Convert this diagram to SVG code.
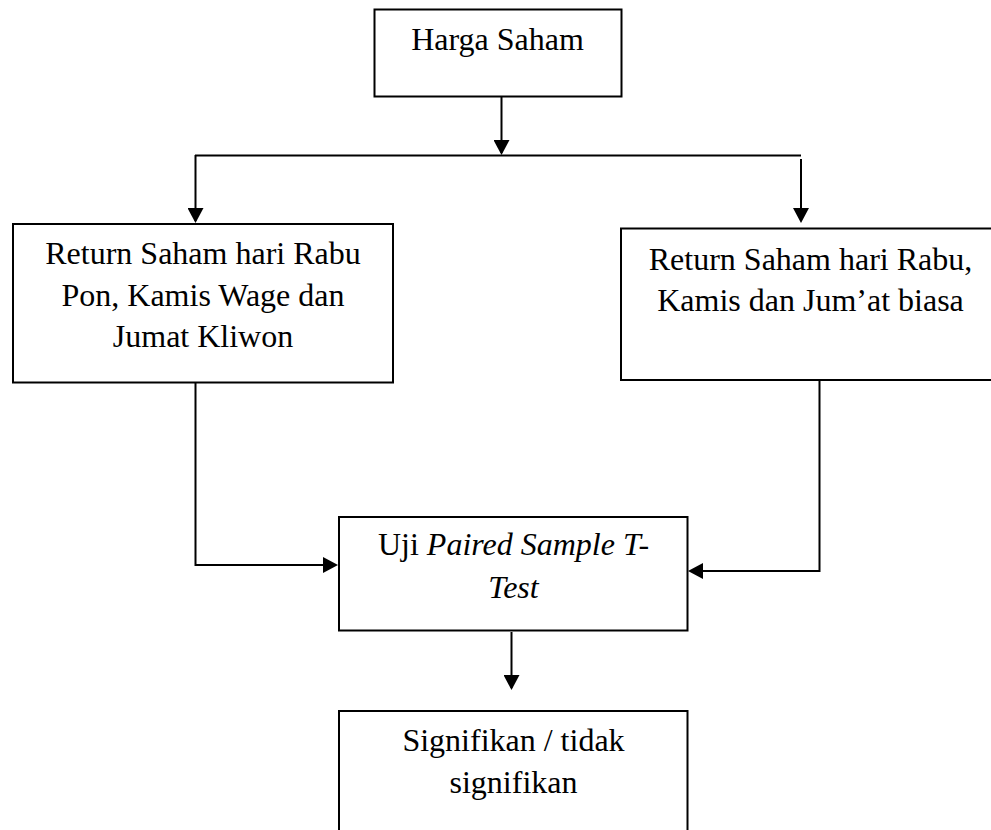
<svg xmlns="http://www.w3.org/2000/svg" width="991" height="830" viewBox="0 0 991 830">
<style>
.box{fill:#fff;stroke:#000;stroke-width:2}
.con{fill:none;stroke:#000;stroke-width:2}
text{font-family:"Liberation Serif","Times New Roman",serif;font-size:32px;fill:#000;text-anchor:middle}
.it{font-style:italic}
</style>
<defs>
<marker id="ah" markerUnits="userSpaceOnUse" markerWidth="16" markerHeight="16" refX="13" refY="8" orient="auto">
<path d="M0,0 L15,8 L0,16 z" fill="#000"/>
</marker>
</defs>
<rect width="991" height="830" fill="#fff"/>
<g id="connectors">
<path class="con" d="M501.5,96 V153" marker-end="url(#ah)"/>
<path class="con" d="M195,155.5 H801"/>
<path class="con" d="M195.5,155 V221" marker-end="url(#ah)"/>
<path class="con" d="M801,159 V221" marker-end="url(#ah)"/>
<path class="con" d="M195.5,383 V565 H336" marker-end="url(#ah)"/>
<path class="con" d="M819.5,380 V571 H690" marker-end="url(#ah)"/>
<path class="con" d="M511.5,632 V688" marker-end="url(#ah)"/>
</g>
<g id="harga-saham">
<rect class="box" x="374.5" y="9.5" width="247" height="87"/>
<text x="497.5" y="50">Harga Saham</text>
</g>
<g id="return-khusus">
<rect class="box" x="13" y="224" width="380" height="158.5"/>
<text x="203" y="264">Return Saham hari Rabu</text>
<text x="203" y="305.5">Pon, Kamis Wage dan</text>
<text x="203" y="347">Jumat Kliwon</text>
</g>
<g id="return-biasa">
<rect class="box" x="621" y="228.5" width="380" height="151.5"/>
<text x="810.5" y="270">Return Saham hari Rabu,</text>
<text x="810.5" y="311">Kamis dan Jum’at biasa</text>
</g>
<g id="uji">
<rect class="box" x="339" y="517" width="348.5" height="113.5"/>
<text x="513.5" y="555">Uji <tspan class="it">Paired Sample T-</tspan></text>
<text x="513.5" y="598" class="it">Test</text>
</g>
<g id="hasil">
<rect class="box" x="339" y="711" width="348.5" height="140"/>
<text x="513.5" y="751">Signifikan / tidak</text>
<text x="513.5" y="793">signifikan</text>
</g>
</svg>
